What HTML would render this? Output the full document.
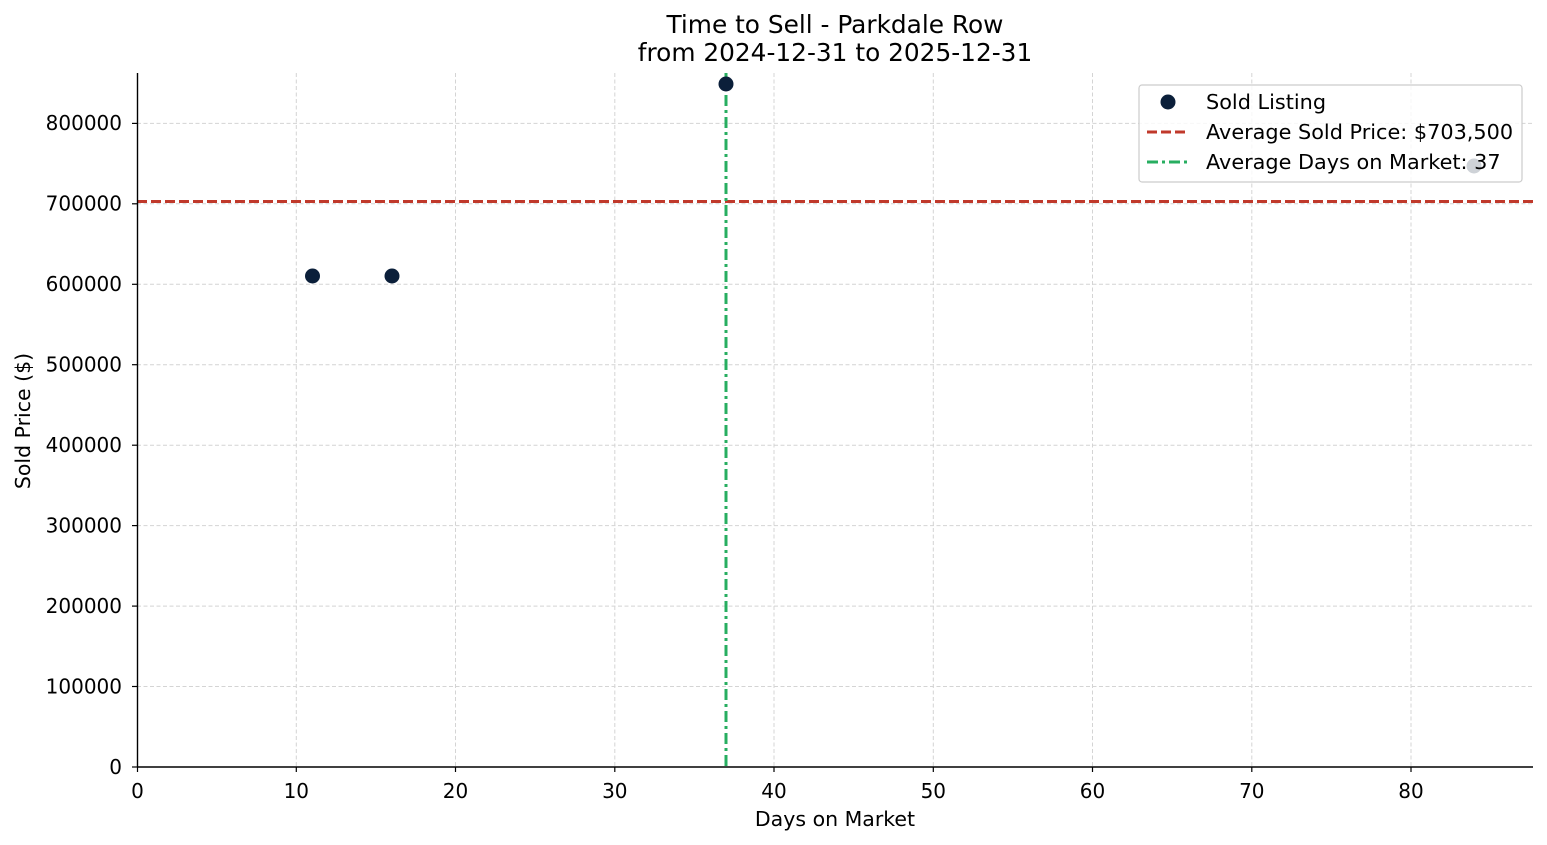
<!DOCTYPE html>
<html><head><meta charset="utf-8"><style>html,body{margin:0;padding:0;background:#fff}svg{display:block}text{font-family:"DejaVu Sans","Liberation Sans",sans-serif;fill:#000}</style></head>
<body>
<svg width="1547" height="845" viewBox="0 0 1547 845" xmlns="http://www.w3.org/2000/svg">
<rect width="1547" height="845" fill="#fff"/>
<g stroke="#d4d4d4" stroke-width="1" stroke-dasharray="4,2.5">
<line x1="296.3" y1="73" x2="296.3" y2="767"/><line x1="455.5" y1="73" x2="455.5" y2="767"/><line x1="614.8" y1="73" x2="614.8" y2="767"/><line x1="774" y1="73" x2="774" y2="767"/><line x1="933.3" y1="73" x2="933.3" y2="767"/><line x1="1092.5" y1="73" x2="1092.5" y2="767"/><line x1="1251.8" y1="73" x2="1251.8" y2="767"/><line x1="1411" y1="73" x2="1411" y2="767"/>
<line x1="137" y1="686.5" x2="1533" y2="686.5"/><line x1="137" y1="606.1" x2="1533" y2="606.1"/><line x1="137" y1="525.6" x2="1533" y2="525.6"/><line x1="137" y1="445.2" x2="1533" y2="445.2"/><line x1="137" y1="364.7" x2="1533" y2="364.7"/><line x1="137" y1="284.3" x2="1533" y2="284.3"/><line x1="137" y1="203.8" x2="1533" y2="203.8"/><line x1="137" y1="123.4" x2="1533" y2="123.4"/>
</g>
<line x1="137" y1="201.5" x2="1533" y2="201.5" stroke="#c0392b" stroke-width="3" stroke-dasharray="10,4"/>
<line x1="726" y1="73" x2="726" y2="767" stroke="#27ae60" stroke-width="3" stroke-dasharray="11,4,3,4"/>
<g fill="#0b1f3a">
<circle cx="312.5" cy="276" r="7.5"/><circle cx="392" cy="276" r="7.5"/><circle cx="726" cy="84" r="7.5"/><circle cx="1474" cy="166" r="7.5"/>
</g>
<g stroke="#000" stroke-width="1.4">
<line x1="137.5" y1="73" x2="137.5" y2="767"/><line x1="137" y1="767" x2="1533" y2="767"/>
</g>
<g stroke="#000" stroke-width="1.2">
<line x1="137.5" y1="767" x2="137.5" y2="772"/><line x1="296.3" y1="767" x2="296.3" y2="772"/><line x1="455.5" y1="767" x2="455.5" y2="772"/><line x1="614.8" y1="767" x2="614.8" y2="772"/><line x1="774" y1="767" x2="774" y2="772"/><line x1="933.3" y1="767" x2="933.3" y2="772"/><line x1="1092.5" y1="767" x2="1092.5" y2="772"/><line x1="1251.8" y1="767" x2="1251.8" y2="772"/><line x1="1411" y1="767" x2="1411" y2="772"/>
<line x1="132" y1="767" x2="137" y2="767"/><line x1="132" y1="686.5" x2="137" y2="686.5"/><line x1="132" y1="606.1" x2="137" y2="606.1"/><line x1="132" y1="525.6" x2="137" y2="525.6"/><line x1="132" y1="445.2" x2="137" y2="445.2"/><line x1="132" y1="364.7" x2="137" y2="364.7"/><line x1="132" y1="284.3" x2="137" y2="284.3"/><line x1="132" y1="203.8" x2="137" y2="203.8"/><line x1="132" y1="123.4" x2="137" y2="123.4"/>
</g>
<g font-size="20" text-anchor="middle">
<text x="137.5" y="798">0</text><text x="296.3" y="798">10</text><text x="455.5" y="798">20</text><text x="614.8" y="798">30</text><text x="774" y="798">40</text><text x="933.3" y="798">50</text><text x="1092.5" y="798">60</text><text x="1251.8" y="798">70</text><text x="1411" y="798">80</text>
</g>
<g font-size="20" text-anchor="end">
<text x="122" y="774">0</text><text x="122" y="693.5">100000</text><text x="122" y="613">200000</text><text x="122" y="532.5">300000</text><text x="122" y="452">400000</text><text x="122" y="371.5">500000</text><text x="122" y="291">600000</text><text x="122" y="210.5">700000</text><text x="122" y="130">800000</text>
</g>
<text x="835" y="826" font-size="20.5" text-anchor="middle">Days on Market</text>
<text transform="translate(30,421) rotate(-90)" font-size="20.5" text-anchor="middle">Sold Price ($)</text>
<text x="835" y="33" font-size="24.8" text-anchor="middle">Time to Sell - Parkdale Row</text>
<text x="835" y="61" font-size="24.8" text-anchor="middle">from 2024-12-31 to 2025-12-31</text>
<rect x="1139" y="85" width="383" height="97" rx="3" fill="#fff" fill-opacity="0.8" stroke="#ccc" stroke-width="1.2"/>
<circle cx="1168" cy="102" r="7.5" fill="#0b1f3a"/>
<line x1="1147" y1="132" x2="1189" y2="132" stroke="#c0392b" stroke-width="3" stroke-dasharray="10,4"/>
<line x1="1147" y1="162" x2="1189" y2="162" stroke="#27ae60" stroke-width="3" stroke-dasharray="11,4,3,4"/>
<g font-size="20.8"><text x="1206" y="109">Sold Listing</text><text x="1206" y="139">Average Sold Price: $703,500</text><text x="1206" y="169">Average Days on Market: 37</text></g>
</svg>
</body></html>
